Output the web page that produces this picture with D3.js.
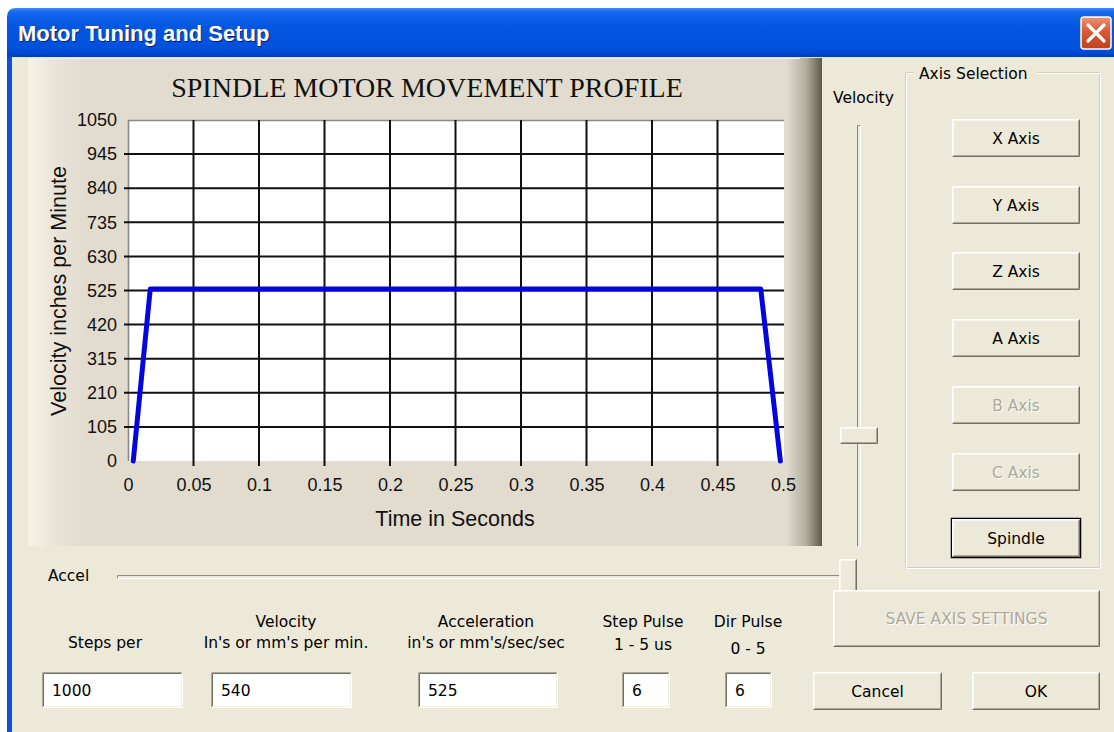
<!DOCTYPE html>
<html>
<head>
<meta charset="utf-8">
<script src="https://cdn.jsdelivr.net/npm/d3@7"></script>
<style>
body { margin: 0; background: #fff; }
svg { display: block; }
.ui { font-family: Tahoma, "DejaVu Sans", sans-serif; font-size: 15.5px; fill: #000; }
</style>
</head>
<body>
<svg width="1114" height="732"></svg>
<script>
// spindle profile
var timeSec = [0.004, 0.017, 0.483, 0.498];
var velocity = [0, 530, 530, 0];

var yTicks = [0, 105, 210, 315, 420, 525, 630, 735, 840, 945, 1050];
var xTicks = [0, 0.05, 0.1, 0.15, 0.2, 0.25, 0.3, 0.35, 0.4, 0.45, 0.5];
var xTickLabels = ["0", "0.05", "0.1", "0.15", "0.2", "0.25", "0.3", "0.35", "0.4", "0.45", "0.5"];

var axisNames = ["X Axis", "Y Axis", "Z Axis", "A Axis", "B Axis", "C Axis", "Spindle"];
var axisEnabled = [true, true, true, true, false, false, true];

var fieldCaptions = [["Steps per"], ["Velocity", "In's or mm's per min."], ["Acceleration", "in's or mm's/sec/sec"], ["Step Pulse", "1 - 5 us"], ["Dir Pulse", "0 - 5"]];
var fieldValues = ["1000", "540", "525", "6", "6"];

var svg = d3.select("svg");
var defs = svg.append("defs");

function grad(id, stops, vertical) {
    var g = defs.append("linearGradient").attr("id", id)
        .attr("x1", 0).attr("y1", 0)
        .attr("x2", vertical ? 0 : 1).attr("y2", vertical ? 1 : 0);
    stops.forEach(function (s) {
        g.append("stop").attr("offset", s[0]).attr("stop-color", s[1]);
    });
}
grad("titleGrad", [[0, "#3d8af7"], [0.08, "#1468ec"], [0.35, "#0457e3"], [0.85, "#0150dc"], [1, "#003dbb"]], true);
grad("panelGrad", [[0, "#f7f3e6"], [0.035, "#e9e4d7"], [0.07, "#e2dccf"], [0.955, "#e2dccf"], [0.98, "#b3ad9d"], [0.993, "#7a7667"], [1, "#5c594c"]], false);
grad("closeGrad", [[0, "#ec9577"], [0.45, "#d75a35"], [1, "#c2401a"]], true);

// window frame
svg.append("rect").attr("x", 7).attr("y", 40).attr("width", 1107).attr("height", 692).attr("fill", "#0a52d8");
svg.append("rect").attr("x", 12).attr("y", 57).attr("width", 1102).attr("height", 675).attr("fill", "#ece9d8");
svg.append("path").attr("d", "M7,57V17Q7,8 16,8H1114V57Z").attr("fill", "url(#titleGrad)");

svg.append("text").attr("x", 19).attr("y", 42).text("Motor Tuning and Setup")
    .attr("font-family", "Liberation Sans, Arial, sans-serif").attr("font-weight", "bold")
    .attr("font-size", 22).attr("fill", "#0a1f6b");
svg.append("text").attr("x", 18).attr("y", 41).text("Motor Tuning and Setup")
    .attr("font-family", "Liberation Sans, Arial, sans-serif").attr("font-weight", "bold")
    .attr("font-size", 22).attr("fill", "#fff");

svg.append("rect").attr("x", 1081).attr("y", 17).attr("width", 30).attr("height", 32).attr("rx", 3)
    .attr("fill", "url(#closeGrad)").attr("stroke", "#fff").attr("stroke-width", 1.5);
svg.append("path").attr("d", "M1088,25L1104,41M1104,25L1088,41")
    .attr("stroke", "#fff").attr("stroke-width", 3.2).attr("stroke-linecap", "round");

// small helpers for the 3d look of the controls
function edge(g, x, y, w, h, tl, br) {
    g.append("path").attr("d", "M" + (x + 0.5) + "," + (y + h - 0.5) + "V" + (y + 0.5) + "H" + (x + w - 0.5))
        .attr("fill", "none").attr("stroke", tl);
    g.append("path").attr("d", "M" + (x + 0.5) + "," + (y + h - 0.5) + "H" + (x + w - 0.5) + "V" + (y + 0.5))
        .attr("fill", "none").attr("stroke", br);
}
function raised(g, x, y, w, h, fill) {
    g.append("rect").attr("x", x).attr("y", y).attr("width", w).attr("height", h).attr("fill", fill || "#ece9d8");
    edge(g, x, y, w, h, "#ffffff", "#716f64");
    edge(g, x + 1, y + 1, w - 2, h - 2, "#f7f6f0", "#aca899");
}
function sunken(g, x, y, w, h) {
    g.append("rect").attr("x", x).attr("y", y).attr("width", w).attr("height", h).attr("fill", "#fff");
    edge(g, x, y, w, h, "#aca899", "#ffffff");
    edge(g, x + 1, y + 1, w - 2, h - 2, "#716f64", "#f1efe2");
}
function label(g, x, y, str, anchor, disabled) {
    if (disabled) {
        g.append("text").attr("class", "ui").attr("x", x + 1).attr("y", y + 1)
            .attr("text-anchor", anchor || "start").style("fill", "#fff").text(str);
    }
    return g.append("text").attr("class", "ui").attr("x", x).attr("y", y)
        .attr("text-anchor", anchor || "start").style("fill", disabled ? "#aca899" : "#000").text(str);
}
function button(g, x, y, w, h, str, enabled, isDefault) {
    if (isDefault) {
        g.append("rect").attr("x", x - 0.5).attr("y", y - 0.5).attr("width", w + 1).attr("height", h + 1)
            .attr("fill", "none").attr("stroke", "#000").attr("stroke-width", 1.5);
    }
    raised(g, x, y, w, h);
    label(g, x + w / 2, y + h / 2 + 5.5, str, "middle", !enabled);
}

// chart panel
var panel = svg.append("g");
panel.append("rect").attr("x", 28).attr("y", 58).attr("width", 794).attr("height", 488).attr("fill", "url(#panelGrad)");
panel.append("line").attr("x1", 28).attr("x2", 800).attr("y1", 58.5).attr("y2", 58.5).attr("stroke", "#f4f0e4");

var plot = { left: 128, top: 120, right: 784, bottom: 461 };
var x = d3.scaleLinear().domain([0, 0.5]).range([plot.left, 783]);
var y = d3.scaleLinear().domain([0, 1050]).range([plot.bottom, plot.top]);

panel.append("rect").attr("x", plot.left).attr("y", plot.top)
    .attr("width", plot.right - plot.left).attr("height", plot.bottom - plot.top).attr("fill", "#fff");
panel.append("path").attr("d", "M" + (plot.left + 0.5) + "," + plot.bottom + "V" + (plot.top + 0.5) + "H" + plot.right)
    .attr("fill", "none").attr("stroke", "#8a8a8a").attr("stroke-width", 1.6);

panel.append("g").selectAll("line").data(yTicks.slice(1, -1)).enter().append("line")
    .attr("x1", plot.left - 4).attr("x2", plot.right)
    .attr("y1", function (d) { return y(d); }).attr("y2", function (d) { return y(d); })
    .attr("stroke", "#111").attr("stroke-width", 2);
panel.append("g").selectAll("line").data(xTicks.slice(1, -1)).enter().append("line")
    .attr("y1", plot.top).attr("y2", plot.bottom + 5)
    .attr("x1", function (d) { return x(d); }).attr("x2", function (d) { return x(d); })
    .attr("stroke", "#111").attr("stroke-width", 2);

var yAxis = panel.append("g").attr("transform", "translate(" + plot.left + ",0)")
    .call(d3.axisLeft(y).tickValues(yTicks).tickSize(0).tickPadding(11).tickFormat(d3.format("d")));
var xAxis = panel.append("g").attr("transform", "translate(0," + plot.bottom + ")")
    .call(d3.axisBottom(x).tickValues(xTicks).tickSize(0).tickPadding(17.5)
        .tickFormat(function (d, i) { return xTickLabels[i]; }));
[yAxis, xAxis].forEach(function (a) {
    a.select(".domain").remove();
    a.attr("font-family", "Liberation Sans, Arial, sans-serif").attr("font-size", 18);
    a.selectAll("text").attr("fill", "#111");
});

var profile = timeSec.map(function (t, i) { return { t: t, v: velocity[i] }; });
panel.append("path").datum(profile)
    .attr("d", d3.line().x(function (d) { return x(d.t); }).y(function (d) { return y(d.v); }))
    .attr("fill", "none").attr("stroke", "#0505dd").attr("stroke-width", 5)
    .attr("stroke-linejoin", "round").attr("stroke-linecap", "round");

panel.append("text").attr("x", 427).attr("y", 97).attr("text-anchor", "middle")
    .attr("font-family", "Liberation Serif, Times New Roman, serif").attr("font-size", 28)
    .attr("fill", "#111").text("SPINDLE MOTOR MOVEMENT PROFILE");
panel.append("text").attr("x", 455).attr("y", 526).attr("text-anchor", "middle")
    .attr("font-family", "Liberation Sans, Arial, sans-serif").attr("font-size", 21.5)
    .attr("fill", "#111").text("Time in Seconds");
panel.append("text").attr("transform", "translate(66,291) rotate(-90)").attr("text-anchor", "middle")
    .attr("font-family", "Liberation Sans, Arial, sans-serif").attr("font-size", 21.5)
    .attr("fill", "#111").text("Velocity inches per Minute");

// sliders
var ctl = svg.append("g");
label(ctl, 833, 103, "Velocity");
edge(ctl, 857, 125, 4, 422, "#8c8a7e", "#ffffff");
raised(ctl, 840, 427, 38, 17);

label(ctl, 48, 581, "Accel");
edge(ctl, 117, 575, 723, 4, "#8c8a7e", "#ffffff");
raised(ctl, 839, 559, 18, 35);

// axis selection group
var grp = svg.append("g");
edge(grp, 905, 72, 195, 496, "#d0d0bf", "#d0d0bf");
edge(grp, 906, 73, 195, 496, "#ffffff", "#ffffff");
grp.append("rect").attr("x", 914).attr("y", 64).attr("width", 124).attr("height", 18).attr("fill", "#ece9d8");
label(grp, 919, 79, "Axis Selection");

var buttonTops = [119, 186, 252, 319, 386, 453, 519];
axisNames.forEach(function (name, i) {
    button(grp, 952, buttonTops[i], 128, 38, name, axisEnabled[i], name === "Spindle");
});

button(ctl, 833, 590, 267, 57, "SAVE AXIS SETTINGS", false);

// input fields along the bottom
var fieldBox = [[42, 141], [211, 141], [418, 140], [622, 48], [725, 47]];
var captionX = [105, 286, 486, 643, 748];
var captionY = [[648], [627, 648], [627, 648], [627, 650], [627, 654]];
fieldCaptions.forEach(function (lines, i) {
    lines.forEach(function (s, j) {
        label(ctl, captionX[i], captionY[i][j], s, "middle");
    });
    sunken(ctl, fieldBox[i][0], 672, fieldBox[i][1], 36);
    label(ctl, fieldBox[i][0] + 10, 696, fieldValues[i]);
});

button(ctl, 813, 672, 129, 38, "Cancel", true);
button(ctl, 972, 672, 128, 38, "OK", true);
</script>
</body>
</html>
